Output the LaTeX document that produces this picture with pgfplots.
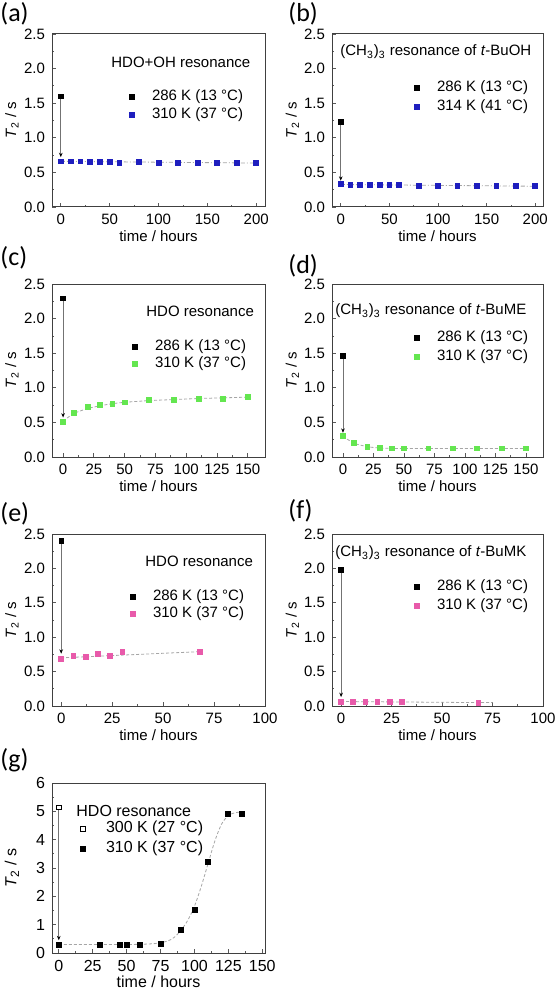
\documentclass[border=0pt]{standalone}
\usepackage{fontspec}
\setmainfont{Liberation Sans}
\newfontfamily\panelfont{Carlito}
\usepackage{pgfplots}
\pgfplotsset{compat=1.18}
\usetikzlibrary{arrows.meta}
\definecolor{myblue}{RGB}{30,30,190}
\definecolor{mygreen}{RGB}{100,230,80}
\definecolor{mypink}{RGB}{232,90,170}
\newcommand\axfont{\fontsize{7.5}{9}\selectfont}
\newcommand\gfont{\fontsize{8}{9.5}\selectfont}
\newcommand\pfont{\panelfont\fontsize{13}{15}\selectfont}
\tikzset{ptitle/.style={anchor=west, inner sep=0pt, font=\axfont}}

\pgfplotsset{
 panel/.style={
   scale only axis,
   axis line style={black!75, line width=0.5pt},
   every tick/.style={black!65, line width=0.4pt},
   major tick length=2pt, minor tick length=1.2pt,
   tick align=inside, xtick pos=bottom, ytick pos=left,
   minor x tick num=1, minor y tick num=1,
   tick label style={font=\axfont},
   /pgf/number format/assume math mode=true,
   xlabel={time / hours},
   ylabel={\textit{T}\textsubscript{2} / s},
   label style={font=\axfont},
   xlabel style={at={(axis description cs:0.5,-0.167)}, anchor=center},
   ylabel style={at={(axis description cs:-0.188,0.5)}, anchor=center},
   legend image code/.code={\path[draw=none, fill=none] (-3pt,-3pt) rectangle (3pt,3pt); \draw[##1] plot coordinates {(0pt,0pt)};},
   legend style={draw=none, fill=none, inner sep=0pt, outer sep=0pt, column sep=7pt, row sep=2.5pt, font=\axfont, nodes={inner sep=0pt, text height=5pt, text depth=1.5pt}, anchor=north west, at={(axis description cs:0,1)}},
   legend cell align=left,
   ymin=0, ymax=2.5, ytick={0,0.5,1,1.5,2,2.5},
   yticklabel style={/pgf/number format/.cd, fixed, fixed zerofill, precision=1},
   clip=false,
 },
 fitline/.style={gray!70, line width=0.4pt, dash pattern=on 1.5pt off 1pt, forget plot},
 dotline/.style={gray!70, line width=0.4pt, dash pattern=on 2pt off 1pt on 0.5pt off 1pt, forget plot},
 arrowline/.style={black!55, line width=0.4pt, -{Stealth[length=2.2pt,width=1.8pt,color=black]}, forget plot},
 blk/.style={only marks, mark=square*, mark size=1.1pt, black},
 col/.style={only marks, mark=square*, mark size=1.2pt, color=#1},
}

\begin{document}
\begin{tikzpicture}
\useasboundingbox (0,0) rectangle (277.5pt,-495pt);

\node[anchor=west, inner sep=0pt, font=\pfont] at (0pt,-7pt) {(a)};
\node[anchor=west, inner sep=0pt, font=\pfont] at (144pt,-7pt) {(b)};
\node[anchor=west, inner sep=0pt, font=\pfont] at (0pt,-129pt) {(c)};
\node[anchor=west, inner sep=0pt, font=\pfont] at (144pt,-133pt) {(d)};
\node[anchor=west, inner sep=0pt, font=\pfont] at (0pt,-257pt) {(e)};
\node[anchor=west, inner sep=0pt, font=\pfont] at (144pt,-255.5pt) {(f)};
\node[anchor=west, inner sep=0pt, font=\pfont] at (0pt,-380pt) {(g)};

% (a)
\begin{axis}[panel, at={(26pt,-17pt)}, anchor=north west, width=106.5pt, height=86.5pt,
  xmin=-9, xmax=209, xtick={0,50,100,150,200},
  legend style={xshift=37pt, yshift=-28.25pt}]
\addplot[dotline] coordinates {(0,0.66) (200,0.635)};
\addplot[arrowline] coordinates {(0,1.60) (0,0.72)};
\addplot[blk] coordinates {(0,1.60)};
\addplot[col=myblue] coordinates {(0,0.66) (10,0.66) (20,0.66) (30,0.65) (40,0.65) (50,0.65) (60,0.64) (80,0.65) (100,0.64) (120,0.64) (140,0.64) (160,0.64) (180,0.64) (200,0.64)};
\legend{286 K (13 °C), 310 K (37 °C)}
\node[ptitle, xshift=29.5pt, yshift=-14pt] at (axis description cs:0,1) {HDO+OH resonance};
\end{axis}

% (b)
\begin{axis}[panel, at={(166pt,-17pt)}, anchor=north west, width=105.5pt, height=86.5pt,
  xmin=-9, xmax=208, xtick={0,50,100,150,200},
  legend style={xshift=39.5pt, yshift=-23.75pt, row sep=3pt}]
\addplot[dotline] coordinates {(0,0.325) (200,0.30)};
\addplot[arrowline] coordinates {(0,1.23) (0,0.38)};
\addplot[blk] coordinates {(0,1.23)};
\addplot[col=myblue] coordinates {(0,0.33) (10,0.32) (20,0.32) (30,0.32) (40,0.32) (50,0.32) (60,0.32) (80,0.31) (100,0.30) (120,0.30) (140,0.30) (160,0.30) (180,0.30) (200,0.30)};
\legend{286 K (13 °C), 314 K (41 °C)}
\node[ptitle, xshift=4pt, yshift=-9pt] at (axis description cs:0,1) {(CH\textsubscript{3})\textsubscript{3} resonance of \textit{t}-BuOH};
\end{axis}

% (c)
\begin{axis}[panel, at={(26pt,-142pt)}, anchor=north west, width=106.5pt, height=86.5pt,
  xmin=-9, xmax=164, xtick={0,25,50,75,100,125,150},
  legend style={xshift=38.5pt, yshift=-28.25pt, row sep=2pt}]
\addplot[fitline, smooth] coordinates {(0,0.52) (9,0.63) (20,0.70) (30,0.74) (40,0.77) (50,0.79) (70,0.815) (90,0.83) (110,0.845) (130,0.855) (150,0.865)};
\addplot[arrowline] coordinates {(0,2.29) (0,0.57)};
\addplot[blk] coordinates {(0,2.29)};
\addplot[col=mygreen] coordinates {(0,0.51) (9,0.64) (20,0.72) (30,0.755) (40,0.765) (50,0.79) (70,0.82) (90,0.83) (110,0.84) (130,0.845) (150,0.865)};
\legend{286 K (13 °C), 310 K (37 °C)}
\node[ptitle, xshift=47pt, yshift=-13.5pt] at (axis description cs:0,1) {HDO resonance};
\end{axis}

% (d)
\begin{axis}[panel, at={(166pt,-142pt)}, anchor=north west, width=105.5pt, height=86.5pt,
  xmin=-9, xmax=164, xtick={0,25,50,75,100,125,150},
  legend style={xshift=39.5pt, yshift=-23.75pt, row sep=3pt}]
\addplot[fitline, smooth] coordinates {(0,0.30) (9,0.20) (20,0.15) (30,0.13) (40,0.125) (50,0.124) (150,0.124)};
\addplot[arrowline] coordinates {(0,1.46) (0,0.35)};
\addplot[blk] coordinates {(0,1.46)};
\addplot[col=mygreen] coordinates {(0,0.31) (9,0.20) (20,0.15) (30,0.13) (40,0.125) (50,0.125) (70,0.125) (90,0.125) (110,0.125) (130,0.125) (150,0.125)};
\legend{286 K (13 °C), 310 K (37 °C)}
\node[ptitle, xshift=1.5pt, yshift=-13.5pt] at (axis description cs:0,1) {(CH\textsubscript{3})\textsubscript{3} resonance of \textit{t}-BuME};
\end{axis}

% (e)
\begin{axis}[panel, at={(26pt,-267pt)}, anchor=north west, width=106.5pt, height=86pt,
  xmin=-4.5, xmax=100, xtick={0,25,50,75,100},
  legend style={xshift=37.5pt, yshift=-28.25pt, row sep=2pt}]
\addplot[fitline] coordinates {(0,0.70) (68,0.79)};
\addplot[arrowline] coordinates {(0,2.40) (0,0.76)};
\addplot[blk] coordinates {(0,2.40)};
\addplot[col=mypink] coordinates {(0,0.69) (6,0.73) (12,0.71) (18,0.755) (24,0.73) (30,0.79) (68,0.79)};
\legend{286 K (13 °C), 310 K (37 °C)}
\node[ptitle, xshift=46.5pt, yshift=-13.5pt] at (axis description cs:0,1) {HDO resonance};
\end{axis}

% (f)
\begin{axis}[panel, at={(166pt,-267pt)}, anchor=north west, width=105.5pt, height=86pt,
  xmin=-4.5, xmax=100, xtick={0,25,50,75,100},
  legend style={xshift=39.5pt, yshift=-23.25pt, row sep=3pt}]
\addplot[fitline] coordinates {(0,0.065) (68,0.05) (75,0.05)};
\addplot[arrowline] coordinates {(0,1.98) (0,0.13)};
\addplot[blk] coordinates {(0,1.98)};
\addplot[col=mypink] coordinates {(0,0.065) (6,0.065) (12,0.065) (18,0.065) (24,0.065) (30,0.065) (68,0.05)};
\legend{286 K (13 °C), 310 K (37 °C)}
\node[ptitle, xshift=1.5pt, yshift=-9.5pt] at (axis description cs:0,1) {(CH\textsubscript{3})\textsubscript{3} resonance of \textit{t}-BuMK};
\end{axis}

% (g)
\begin{axis}[panel, at={(26pt,-391.5pt)}, anchor=north west, width=106.5pt, height=85pt,
  xmin=-5, xmax=152, xtick={0,25,50,75,100,125,150},
  ymin=0, ymax=6, ytick={0,1,2,3,4,5,6},
  tick label style={font=\gfont}, label style={font=\gfont},
  yticklabel style={/pgf/number format/.cd, fixed, precision=0},
  legend style={font=\gfont, xshift=12.5pt, yshift=-19.75pt, row sep=3.5pt, column sep=8.5pt}]
\addplot[fitline, smooth] coordinates {(0,0.30) (50,0.30) (70,0.33) (80,0.42) (85,0.55) (90,0.80) (95,1.15) (100,1.65) (105,2.35) (110,3.15) (115,3.95) (120,4.55) (125,4.85) (130,4.95) (135,4.98)};
\addplot[arrowline] coordinates {(0,5.14) (0,0.45)};
\addplot[only marks, mark=square*, mark size=1.1pt, draw=black, fill=white, mark options={line width=0.4pt}] coordinates {(0,5.14)};
\addplot[only marks, mark=square*, mark size=1.25pt, black] coordinates {(0,0.27) (30,0.27) (45,0.27) (50,0.27) (60,0.27) (75,0.33) (90,0.83) (100,1.53) (110,3.22) (125,4.92) (135,4.92)};
\legend{300 K (27 °C), 310 K (37 °C)}
\node[ptitle, font=\gfont, xshift=12pt, yshift=-14pt] at (axis description cs:0,1) {HDO resonance};
\end{axis}
\end{tikzpicture}
\end{document}
